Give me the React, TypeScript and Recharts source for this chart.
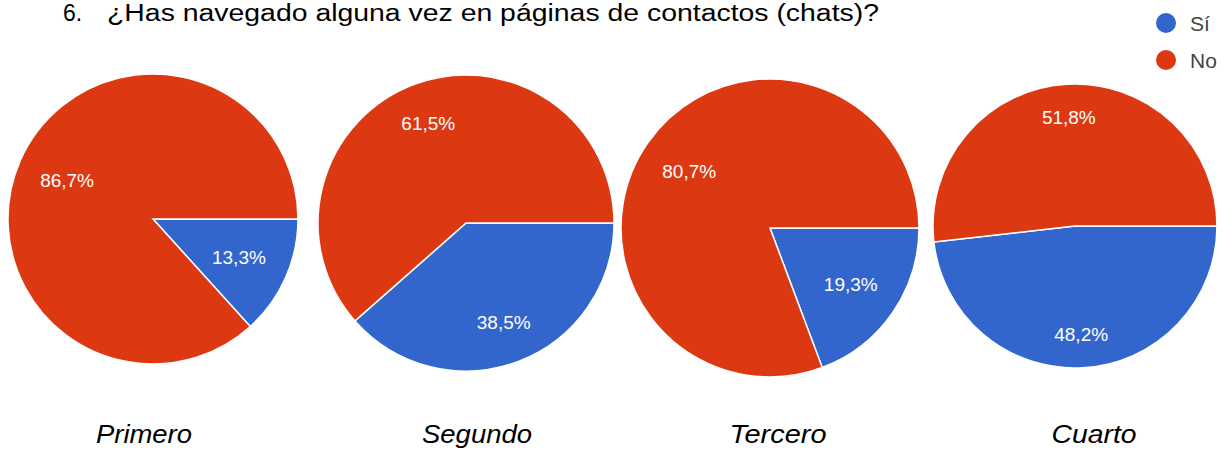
import React from "react";
import { PieChart, Pie, Cell } from "recharts";

const categories = ["Primero", "Segundo", "Tercero", "Cuarto"];
const seriesNames = ["Sí", "No"];
const siValues = [13.3, 38.5, 19.3, 48.2];
const noValues = [86.7, 61.5, 80.7, 51.8];
const titleNumber = "6.";
const titleText = "¿Has navegado alguna vez en páginas de contactos (chats)?";

const COLORS = ["#3366cc", "#dc3912"];
const FONT = "'Liberation Sans', Arial, Helvetica, sans-serif";

const layout = [
  { cx: 153, cy: 219, r: 145, labelX: 144, labelW: 96 },
  { cx: 466, cy: 223, r: 148, labelX: 477, labelW: 110 },
  { cx: 770, cy: 228, r: 149, labelX: 778, labelW: 97 },
  { cx: 1075, cy: 226, r: 142, labelX: 1094, labelW: 85 },
];

const RAD = Math.PI / 180;

const renderLabel = (props: any) => {
  const { cx, cy, midAngle, outerRadius, value } = props;
  const c = Math.cos(-midAngle * RAD);
  const s = Math.sin(-midAngle * RAD);
  const hw = 27;
  const hh = 9.5;
  const d = 0.845 * outerRadius - (hw * Math.abs(c) + hh * Math.abs(s));
  const x = cx + d * c;
  const y = cy + d * s;
  const txt = Number(value).toFixed(1).replace(".", ",") + "%";
  return (
    <text
      x={x}
      y={y}
      fill="#ffffff"
      textAnchor="middle"
      dominantBaseline="central"
      fontFamily={FONT}
      fontSize={19}
    >
      {txt}
    </text>
  );
};

export default function App() {
  return (
    <div style={{ position: "absolute", left: 0, top: 0, width: 1230, height: 452, background: "#fff" }}>
      <PieChart width={1230} height={452} margin={{ top: 0, right: 0, bottom: 0, left: 0 }}>
        {categories.map((cat, i) => {
          const data = [
            { name: seriesNames[0], value: siValues[i] },
            { name: seriesNames[1], value: noValues[i] },
          ];
          const l = layout[i];
          return (
            <Pie
              key={cat}
              data={data}
              dataKey="value"
              nameKey="name"
              cx={l.cx}
              cy={l.cy}
              innerRadius={0}
              outerRadius={l.r}
              startAngle={0}
              endAngle={-360}
              stroke="#ffffff"
              strokeWidth={1.5}
              label={renderLabel}
              labelLine={false}
              isAnimationActive={false}
            >
              {data.map((d, j) => (
                <Cell key={d.name} fill={COLORS[j]} />
              ))}
            </Pie>
          );
        })}
      </PieChart>
      <svg
        width={1230}
        height={452}
        style={{ position: "absolute", left: 0, top: 0, pointerEvents: "none" }}
      >
        <text x={63} y={21} fontFamily={FONT} fontSize={23} fill="#000">
          {titleNumber}
        </text>
        <text
          x={107}
          y={21}
          fontFamily={FONT}
          fontSize={23}
          fill="#000"
          textLength={772}
          lengthAdjust="spacingAndGlyphs"
        >
          {titleText}
        </text>
        {seriesNames.map((n, i) => (
          <g key={n}>
            <circle cx={1166} cy={23 + i * 37} r={10} fill={COLORS[i]} />
            <text x={1190} y={31 + i * 37} fontFamily={FONT} fontSize={21} fill="#444">
              {n}
            </text>
          </g>
        ))}
        {categories.map((cat, i) => (
          <text
            key={cat}
            x={layout[i].labelX - layout[i].labelW / 2}
            y={443}
            fontFamily={FONT}
            fontSize={26}
            fontStyle="italic"
            fill="#000"
            textLength={layout[i].labelW}
            lengthAdjust="spacingAndGlyphs"
          >
            {cat}
          </text>
        ))}
      </svg>
    </div>
  );
}
